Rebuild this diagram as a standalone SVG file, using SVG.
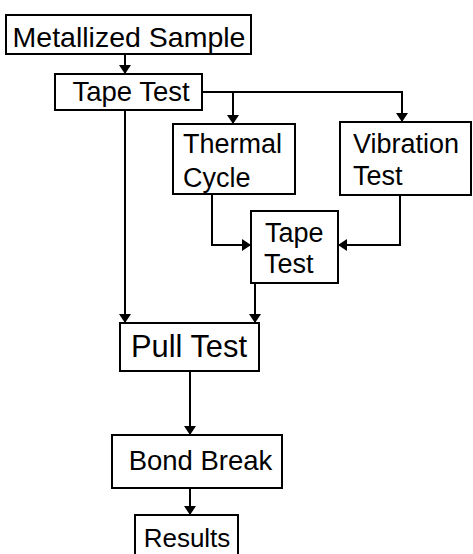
<svg xmlns="http://www.w3.org/2000/svg" width="473" height="554" viewBox="0 0 473 554">
<style>
.box{fill:#fff;stroke:#000;stroke-width:2}
.lbl{font-family:"Liberation Sans",Arial,sans-serif;font-size:27px;fill:#000}
.c{text-anchor:middle}
.con{fill:none;stroke:#000;stroke-width:2}
</style>
<defs>
<marker id="ah" markerUnits="userSpaceOnUse" markerWidth="9" markerHeight="12" viewBox="0 0 9 12" refX="9" refY="6" orient="auto">
<path d="M0,0 L9,6 L0,12 Z" fill="#000"/>
</marker>
</defs>
<rect width="473" height="554" fill="#fff"/>
<g id="connectors">
<path class="con" d="M125,54 V74" marker-end="url(#ah)"/>
<path class="con" d="M202,92 H402 V122" marker-end="url(#ah)"/>
<path class="con" d="M233,92 V124" marker-end="url(#ah)"/>
<path class="con" d="M125,110 V323" marker-end="url(#ah)"/>
<path class="con" d="M212,194 V245 H251" marker-end="url(#ah)"/>
<path class="con" d="M400,195 V245 H338" marker-end="url(#ah)"/>
<path class="con" d="M255,283 V323" marker-end="url(#ah)"/>
<path class="con" d="M190,371 V435" marker-end="url(#ah)"/>
<path class="con" d="M190,488 V515" marker-end="url(#ah)"/>
</g>
<g id="metallized">
<rect class="box" x="6" y="15" width="245" height="39"/>
<text class="lbl c" x="129" y="47" style="font-size:28.5px">Metallized Sample</text>
</g>
<g id="tape1">
<rect class="box" x="55" y="74" width="147" height="36"/>
<text class="lbl c" x="131" y="101" style="font-size:27.5px">Tape Test</text>
</g>
<g id="thermal">
<rect class="box" x="173" y="124" width="122" height="70"/>
<text class="lbl" x="183" y="153">Thermal</text>
<text class="lbl" x="183" y="187">Cycle</text>
</g>
<g id="vibration">
<rect class="box" x="340" y="122" width="131" height="73"/>
<text class="lbl" x="353" y="153">Vibration</text>
<text class="lbl" x="353" y="185">Test</text>
</g>
<g id="tape2">
<rect class="box" x="251" y="211" width="87" height="72"/>
<text class="lbl" x="265" y="242">Tape</text>
<text class="lbl" x="264" y="273">Test</text>
</g>
<g id="pull">
<rect class="box" x="120" y="323" width="139" height="48"/>
<text class="lbl" x="131" y="357" style="font-size:32px" textLength="116" lengthAdjust="spacingAndGlyphs">Pull Test</text>
</g>
<g id="bond">
<rect class="box" x="112" y="435" width="170" height="53"/>
<text class="lbl c" x="200.5" y="470" style="font-size:27.5px">Bond Break</text>
</g>
<g id="results">
<rect class="box" x="135" y="515" width="103" height="50"/>
<text class="lbl c" x="187" y="547" style="font-size:26px">Results</text>
</g>
</svg>
